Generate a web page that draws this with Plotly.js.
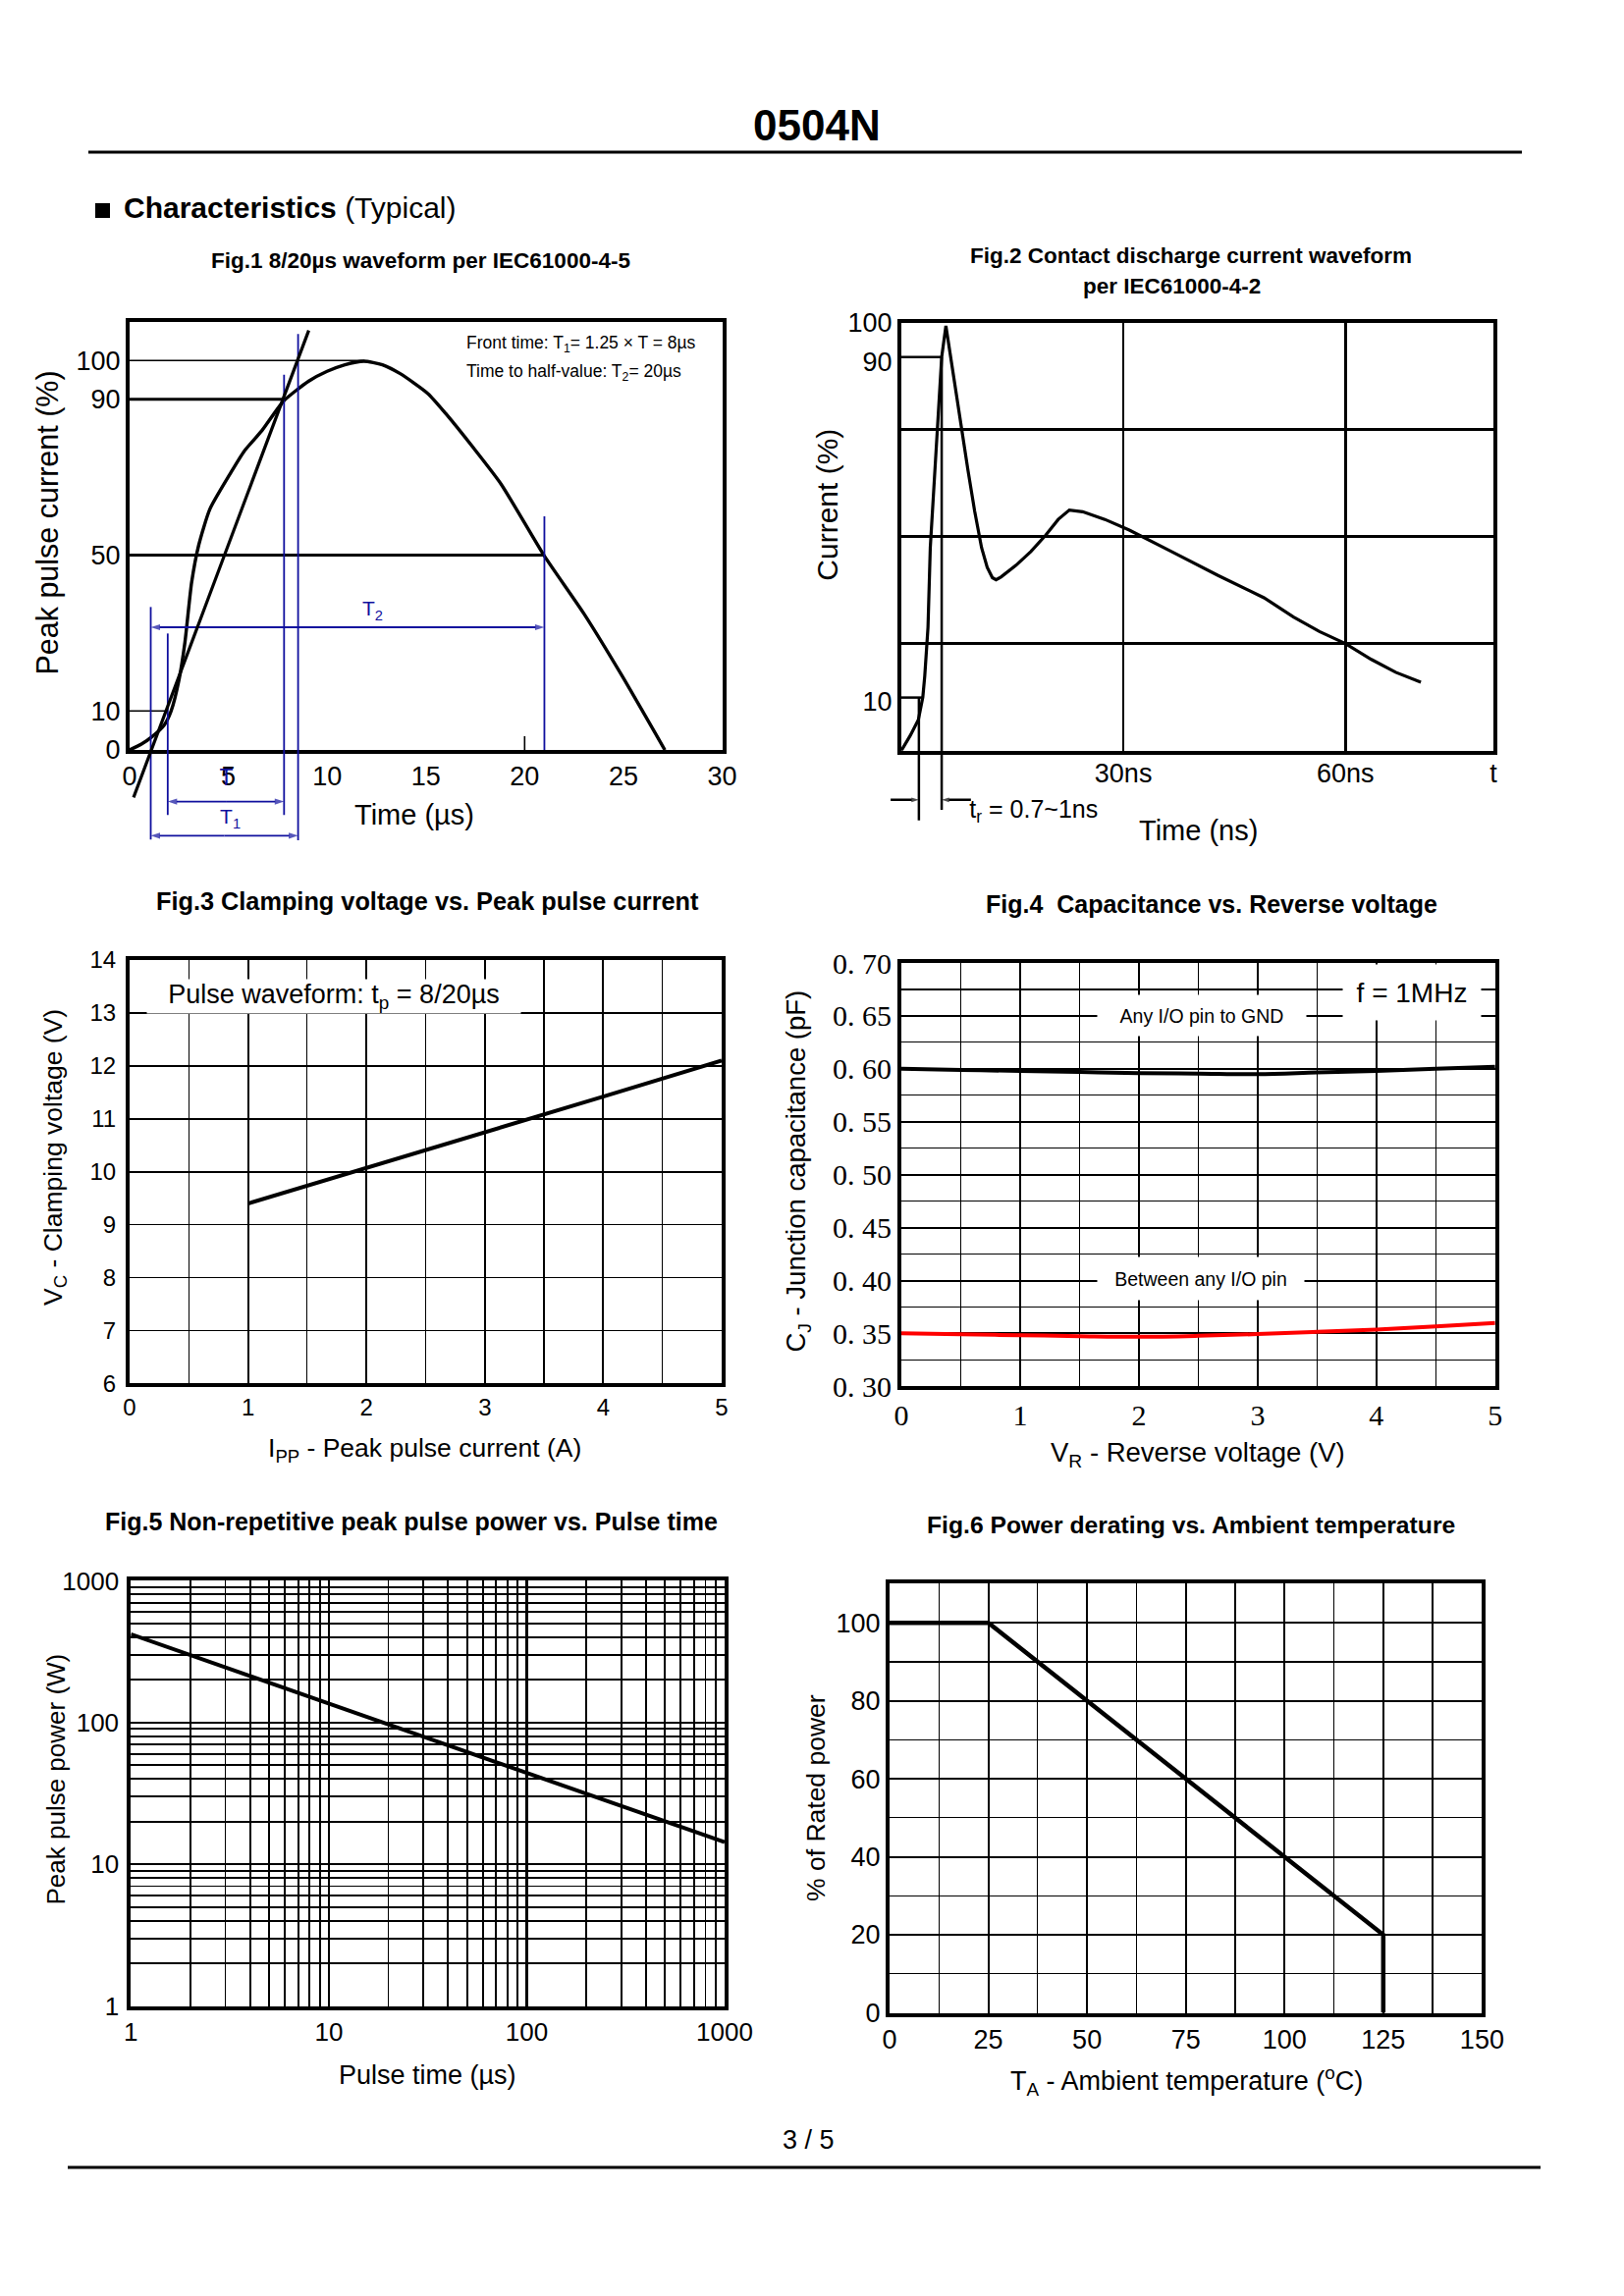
<!DOCTYPE html>
<html><head><meta charset="utf-8">
<script src="https://cdn.plot.ly/plotly-3.0.1.min.js"></script>
<style>html,body{margin:0;padding:0;background:#fff}</style>
</head><body><div id="chart" style="width:1654px;height:2339px"></div>
<script>
// ---------------- data ----------------
// Fig.1 8/20us waveform
const fig1Time    = [0, 0.6, 1.16, 1.74, 2.1, 2.5, 2.8, 3.14, 3.5, 4.07, 5.1, 5.8, 6.7, 7.8, 9.07, 10.0, 10.9, 11.86, 12.8, 13.7, 15.1, 16.0, 17.4, 18.8, 21.0, 23.0, 24.9, 27.1];
const fig1Current = [0, 1.5, 3.5, 6.3, 10.0, 18.0, 27.6, 43.0, 52.6, 61.9, 71.0, 76.7, 82.0, 89.6, 94.7, 97.2, 98.9, 99.8, 98.9, 96.6, 91.5, 86.4, 77.6, 68.3, 49.8, 35.0, 19.3, 0];
const fig1FrontX = [0.2, 9.07];
const fig1FrontY = [-12.2, 107.7];
const fig1RefLevels = [100, 90, 50, 10];
const fig1RefEnds   = [11.9, 7.8, 21.0, 1.9];
const fig1XTicks = [0, 5, 10, 15, 20, 25, 30];
const fig1YTicks = [0, 10, 50, 90, 100];
const fig1GuideX      = [1.07, 1.93, 7.82, 8.53, 21.0];
const fig1GuideTop    = [36.7, 29.9, 96.3, 106.8, 60];
const fig1GuideBottom = [-23, -16.7, -16.7, -23.2, 0];
const fig1DimY    = [31.5, -13.25, -22];
const fig1DimFrom = [1.07, 1.93, 1.07];
const fig1DimTo   = [21.0, 7.82, 8.53];
const fig1DimText = ['T<sub>2</sub>', 'T<sub>1</sub>', 'T'];
const fig1DimTextX = [12.3, 5.1, 4.9];
const fig1DimTextY = [35.8, -17.7, -7.7];

// Fig.2 contact discharge waveform
const fig2Time    = [0, 1.2, 2.3, 2.9, 3.16, 3.6, 3.91, 4.4, 4.92, 5.45, 6.02, 6.6, 7.4, 8.08, 9.0, 9.9, 10.84, 11.6, 12.3, 12.8, 13.5, 15.5, 17.5, 19.5, 21.2, 22.7, 24.5, 27.5, 30.8, 36.5, 42.8, 49.0, 53.0, 56.5, 60.0, 63.5, 66.8, 70.2];
const fig2Current = [0, 3.5, 7.2, 12.5, 17.4, 28.8, 47.4, 61.5, 75.0, 91.9, 99.2, 92.5, 83.0, 75.0, 65.5, 56.0, 47.4, 42.8, 40.4, 39.9, 40.6, 43.3, 46.5, 50.3, 54.0, 56.2, 55.8, 54.0, 51.5, 46.5, 40.9, 35.7, 31.2, 27.8, 25.0, 21.3, 18.3, 16.0];
const fig2XTickVals = [30, 60, 80];
const fig2XTickText = ['30ns', '60ns', 't'];
const fig2YTickVals = [11.4, 90.8, 100];
const fig2YTickText = ['10', '90', '100'];
const fig2GridY = [25, 50, 75];
const fig2GuideX      = [2.37, 5.45];
const fig2GuideTop    = [12.4, 91.9];
const fig2GuideBottom = [-16.3, -13.8];
const fig2TickEnds    = [2.8, 5.45];
const fig2ArrowFrom = [-1.45, 9.4];
const fig2ArrowTo   = [2.37, 5.45];
const fig2ArrowY = -11.5;

// Fig.3 clamping voltage
const fig3Current = [1, 2, 3, 4, 5];
const fig3Voltage = [9.4, 10.07, 10.75, 11.42, 12.1];

// Fig.4 capacitance
const fig4Voltage = [0, 0.5, 1, 1.5, 2, 2.5, 3, 3.5, 4, 4.5, 5];
const fig4CapGnd  = [0.600, 0.599, 0.598, 0.597, 0.596, 0.5955, 0.595, 0.5965, 0.598, 0.600, 0.602];
const fig4CapIO   = [0.3502, 0.3492, 0.3484, 0.3475, 0.3469, 0.3478, 0.3494, 0.3515, 0.3538, 0.3566, 0.3599];
const fig4YTickVals = [0.30, 0.35, 0.40, 0.45, 0.50, 0.55, 0.60, 0.65, 0.70];
const fig4YTickText = ['0. 30', '0. 35', '0. 40', '0. 45', '0. 50', '0. 55', '0. 60', '0. 65', '0. 70'];

// Fig.5 peak pulse power
const fig5Time  = [1, 10, 100, 1000];
const fig5Power = [420, 136, 44.5, 14.3];
const fig5MajorTicks = [1, 10, 100, 1000];
const fig5MinorTicks = [2,3,4,5,6,7,8,9,20,30,40,50,60,70,80,90,200,300,400,500,600,700,800,900];

// Fig.6 power derating
const fig6Temp  = [0, 25, 125, 125];
const fig6Power = [100, 100, 20, 0];
const fig6YTicks = [0, 20, 40, 60, 80, 100];

// ---------------- helpers ----------------
const W = 1654, H = 2339;
const INK = '#000000';
const BLUE = 'rgb(16,16,158)';
const RED = '#ff0000';
const SANS = '"Liberation Sans", Arial, sans-serif';
const SERIF = '"Liberation Serif", "Times New Roman", serif';
const px = v => v / W;
const py = v => 1 - v / H;
const domX = (a, b) => [a / W, b / W];
const domY = (top, bottom) => [1 - bottom / H, 1 - top / H];

// plot boxes (page pixels)
const box1 = {l: 132, r: 735.5, t: 327.5, b: 764};
const box2 = {l: 918, r: 1521, t: 328.5, b: 764.7};
const fig1Range = {x: [0, 30], y: [0, 110]};
const fig2Range = {x: [0, 80], y: [0, 100]};
const fig1ExtRange = {x: [0, 30], y: [-27, 110]};
const fig2ExtRange = {x: [-3, 80], y: [-20, 100]};
// extended (invisible) axes sharing the same scale, so guide marks can run past the frame
const ppu1y = (box1.b - box1.t) / (fig1Range.y[1] - fig1Range.y[0]);
const ppu2x = (box2.r - box2.l) / (fig2Range.x[1] - fig2Range.x[0]);
const ppu2y = (box2.b - box2.t) / (fig2Range.y[1] - fig2Range.y[0]);
const ext1 = {l: box1.l, r: box1.r, t: box1.t, b: box1.b + (fig1Range.y[0] - fig1ExtRange.y[0]) * ppu1y};
const ext2 = {l: box2.l - (fig2Range.x[0] - fig2ExtRange.x[0]) * ppu2x, r: box2.r, t: box2.t,
              b: box2.b + (fig2Range.y[0] - fig2ExtRange.y[0]) * ppu2y};

const traces = [];
const axn = k => k === 1 ? ['x', 'y'] : ['x' + k, 'y' + k];
function addLine(k, x, y, color, width, extra) {
  const [xa, ya] = axn(k);
  traces.push(Object.assign({type: 'scatter', mode: 'lines', x: x, y: y, xaxis: xa, yaxis: ya,
    line: {color: color, width: width}, cliponaxis: false, hoverinfo: 'skip', showlegend: false}, extra || {}));
}
function addArrow(k, xFrom, xTo, y, color, width, size) {
  addLine(k, [xFrom, xTo], [y, y], color, width, {mode: 'lines+markers',
    marker: {symbol: 'arrow', angleref: 'previous', size: [0, size], color: color, line: {width: 0}}});
}
function addText(k, x, y, text, size, color, pos) {
  const [xa, ya] = axn(k);
  traces.push({type: 'scatter', mode: 'text', x: [x], y: [y], text: [text], textposition: pos || 'middle center',
    textfont: {family: SANS, size: size, color: color}, xaxis: xa, yaxis: ya, cliponaxis: false,
    hoverinfo: 'skip', showlegend: false});
}

// ---------------- Fig.1 ----------------
fig1RefLevels.forEach((lv, i) => addLine(1, [0, fig1RefEnds[i]], [lv, lv], INK, (lv === 100 || lv === 10) ? 1.6 : 3));
addLine(1, [20, 20], [0, 3.5], INK, 1.6);
addLine(1, fig1Time, fig1Current, INK, 3.4, {line: {color: INK, width: 3.4, shape: 'spline', smoothing: 0.6}});
// guides on the extended axes (7)
fig1GuideX.forEach((gx, i) => addLine(7, [gx, gx], [fig1GuideBottom[i], fig1GuideTop[i]], BLUE, 1.8));
fig1DimY.forEach((dy, i) => {
  const mid = (fig1DimFrom[i] + fig1DimTo[i]) / 2;
  addArrow(7, mid, fig1DimFrom[i], dy, BLUE, 1.8, 10);
  addArrow(7, mid, fig1DimTo[i], dy, BLUE, 1.8, 10);
  addText(7, fig1DimTextX[i], fig1DimTextY[i], fig1DimText[i], i === 2 ? 23 : 21, BLUE);
});
addLine(7, fig1FrontX, fig1FrontY, INK, 3.2);

// ---------------- Fig.2 ----------------
fig2GuideTop.forEach((lv, i) => addLine(2, [0, fig2TickEnds[i]], [lv, lv], INK, 2.5));
addLine(2, fig2Time, fig2Current, INK, 3.2);
fig2GuideX.forEach((gx, i) => addLine(8, [gx, gx], [fig2GuideBottom[i], fig2GuideTop[i]], INK, 2.5));
fig2ArrowFrom.forEach((x0, i) => addArrow(8, x0, fig2ArrowTo[i], fig2ArrowY, INK, 2.5, 8));
addText(8, 9.2, -14.2, 't<sub>r</sub> = 0.7~1ns', 25, INK, 'middle right');

// ---------------- Fig.3 ----------------
addLine(3, fig3Current, fig3Voltage, INK, 4);

// ---------------- Fig.4 ----------------
addLine(4, fig4Voltage, fig4CapGnd, INK, 4, {line: {color: INK, width: 4, shape: 'spline'}});
addLine(4, fig4Voltage, fig4CapIO, RED, 4, {line: {color: RED, width: 4, shape: 'spline'}});

// ---------------- Fig.5 ----------------
addLine(5, fig5Time, fig5Power, INK, 4);

// ---------------- Fig.6 ----------------
addLine(6, fig6Temp, fig6Power, INK, 4.5);

// ---------------- axes ----------------
function axis(extra) {
  return Object.assign({showline: true, linecolor: INK, linewidth: 4, mirror: true, ticks: '',
    showgrid: false, zeroline: false, fixedrange: true, layer: 'above traces',
    tickfont: {family: SANS, size: 26, color: INK}}, extra);
}
const grid = (w) => ({showgrid: true, gridcolor: INK, gridwidth: w});
const hidden = (extra) => Object.assign({visible: false, fixedrange: true, showgrid: false, zeroline: false}, extra);

const layout = {
  width: W, height: H, margin: {l: 0, r: 0, t: 0, b: 0},
  paper_bgcolor: '#ffffff', plot_bgcolor: 'rgba(255,255,255,0)', showlegend: false,
  xaxis: axis({domain: domX(box1.l, box1.r), range: fig1Range.x, tickvals: fig1XTicks, anchor: 'y', tickfont: {family: SANS, size: 27, color: INK}}),
  yaxis: axis({domain: domY(box1.t, box1.b), range: fig1Range.y, tickvals: fig1YTicks, anchor: 'x', tickfont: {family: SANS, size: 27, color: INK}}),

  xaxis2: axis(Object.assign({domain: domX(box2.l, box2.r), range: fig2Range.x, tickvals: fig2XTickVals, ticktext: fig2XTickText, anchor: 'y2',
    ticklabelstandoff: -4, tickfont: {family: SANS, size: 27, color: INK}}, grid(2.5))),
  yaxis2: axis({domain: domY(box2.t, box2.b), range: fig2Range.y, tickvals: fig2YTickVals, ticktext: fig2YTickText, anchor: 'x2', tickfont: {family: SANS, size: 27, color: INK},
    minor: {tickvals: fig2GridY, showgrid: true, gridcolor: INK, gridwidth: 2.5, ticks: ''}}),

  xaxis3: axis(Object.assign({domain: domX(132, 735), range: [0, 5], tick0: 0, dtick: 1, anchor: 'y3', tickfont: {family: SANS, size: 24, color: INK},
    minor: {dtick: 0.5, tick0: 0, showgrid: true, gridcolor: INK, gridwidth: 1.2, ticks: ''}}, grid(2))),
  yaxis3: axis(Object.assign({domain: domY(978, 1409.4), range: [6, 14], tick0: 6, dtick: 1, anchor: 'x3', ticklabelstandoff: 5, tickfont: {family: SANS, size: 24, color: INK}}, grid(1.7))),

  xaxis4: axis(Object.assign({domain: domX(918, 1522.8), range: [0, 5], tick0: 0, dtick: 1, anchor: 'y4', tickfont: {family: SERIF, size: 30, color: INK},
    minor: {dtick: 0.5, tick0: 0, showgrid: true, gridcolor: INK, gridwidth: 1.2, ticks: ''}}, grid(2))),
  yaxis4: axis(Object.assign({domain: domY(981, 1412.4), range: [0.3, 0.7], tickvals: fig4YTickVals, ticktext: fig4YTickText, anchor: 'x4', tickfont: {family: SERIF, size: 30, color: INK},
    minor: {dtick: 0.025, tick0: 0.3, showgrid: true, gridcolor: INK, gridwidth: 1.2, ticks: ''}}, grid(2))),

  xaxis5: axis(Object.assign({domain: domX(133.3, 738), type: 'log', range: [0, 3], tickvals: fig5MajorTicks, ticktext: fig5MajorTicks.map(String), anchor: 'y5', tickfont: {family: SANS, size: 26, color: INK},
    minor: {tickvals: fig5MinorTicks, showgrid: true, gridcolor: INK, gridwidth: 1.9, ticks: ''}}, grid(2.2))),
  yaxis5: axis(Object.assign({domain: domY(1610.4, 2043.5), type: 'log', range: [0, 3], tickvals: fig5MajorTicks, ticktext: fig5MajorTicks.map(String), anchor: 'x5', ticklabelstandoff: 3, tickfont: {family: SANS, size: 26, color: INK},
    minor: {tickvals: fig5MinorTicks, showgrid: true, gridcolor: INK, gridwidth: 1.9, ticks: ''}}, grid(2.2))),

  xaxis6: axis(Object.assign({domain: domX(906, 1509.4), range: [0, 150], tick0: 0, dtick: 25, anchor: 'y6', tickfont: {family: SANS, size: 27, color: INK},
    minor: {dtick: 12.5, tick0: 0, showgrid: true, gridcolor: INK, gridwidth: 1.3, ticks: ''}}, grid(2))),
  yaxis6: axis(Object.assign({domain: domY(1613.4, 2050.5), range: [0, 110], tickvals: fig6YTicks, anchor: 'x6', tickfont: {family: SANS, size: 27, color: INK},
    minor: {dtick: 10, tick0: 0, showgrid: true, gridcolor: INK, gridwidth: 1.3, ticks: ''}}, grid(2))),

  // invisible extended axes for Fig.1 and Fig.2 guide marks
  xaxis7: hidden({domain: domX(ext1.l, ext1.r), range: fig1ExtRange.x, anchor: 'y7'}),
  yaxis7: hidden({domain: domY(ext1.t, ext1.b), range: fig1ExtRange.y, anchor: 'x7'}),
  xaxis8: hidden({domain: domX(ext2.l, ext2.r), range: fig2ExtRange.x, anchor: 'y8'}),
  yaxis8: hidden({domain: domY(ext2.t, ext2.b), range: fig2ExtRange.y, anchor: 'x8'}),

  shapes: [
    {type: 'line', xref: 'paper', yref: 'paper', x0: px(90), x1: px(1550), y0: py(155), y1: py(155), line: {color: INK, width: 3}},
    {type: 'line', xref: 'paper', yref: 'paper', x0: px(69), x1: px(1569), y0: py(2208), y1: py(2208), line: {color: INK, width: 3}},
    {type: 'rect', xref: 'paper', yref: 'paper', x0: px(97), x1: px(112), y0: py(222), y1: py(207), fillcolor: INK, line: {width: 0}}
  ],
  annotations: []
};

function note(xp, yp, text, size, opts) {
  layout.annotations.push(Object.assign({xref: 'paper', yref: 'paper', x: px(xp), y: py(yp), text: text, showarrow: false,
    font: {family: SANS, size: size, color: INK}, xanchor: 'center', yanchor: 'middle'}, opts || {}));
}
function dataNote(k, x, y, text, size, opts) {
  const [xa, ya] = axn(k);
  layout.annotations.push(Object.assign({xref: xa, yref: ya, x: x, y: y, text: text, showarrow: false,
    font: {family: SANS, size: size, color: INK}, xanchor: 'center', yanchor: 'middle'}, opts || {}));
}

// page header / footer
note(832, 127, '<b>0504N</b>', 44);
note(124, 211, '<b>Characteristics</b> (Typical)', 30, {xanchor: 'left'});
note(823, 2180, '3 / 5', 27);

// figure titles
note(428, 265.6, '<b>Fig.1 8/20µs waveform per IEC61000-4-5</b>', 22.5);
note(1213, 261, '<b>Fig.2 Contact discharge current waveform</b>', 22.5);
note(1193.6, 291, '<b>per IEC61000-4-2</b>', 22.5);
note(435.7, 917.6, '<b>Fig.3 Clamping voltage vs. Peak pulse current</b>', 25.3);
note(1234, 920.6, '<b>Fig.4&nbsp; Capacitance vs. Reverse voltage</b>', 25);
note(419, 1550, '<b>Fig.5 Non-repetitive peak pulse power vs. Pulse time</b>', 25);
note(1213, 1553, '<b>Fig.6 Power derating vs. Ambient temperature</b>', 24.7);

// axis titles
note(422, 829.6, 'Time (µs)', 29);
note(49, 532.6, 'Peak pulse current (%)', 30.5, {textangle: -90});
note(1220, 846, 'Time (ns)', 29);
note(843, 514.7, 'Current (%)', 30, {textangle: -90});
note(432.7, 1477, 'I<sub>PP</sub> - Peak pulse current (A)', 26.5);
note(55.2, 1178.7, 'V<sub>C</sub> - Clamping voltage (V)', 26.5, {textangle: -90});
note(1220, 1481.6, 'V<sub>R</sub> - Reverse voltage (V)', 27.5);
note(813, 1193.6, 'C<sub>J</sub> - Junction capacitance (pF)', 27.5, {textangle: -90});
note(435.7, 2114, 'Pulse time (µs)', 27);
note(56.7, 1812.8, 'Peak pulse power (W)', 26, {textangle: -90});
note(1208.5, 2120, 'T<sub>A</sub> - Ambient temperature (<sup>o</sup>C)', 27);
note(831, 1832, '% of Rated power', 26.5, {textangle: -90});

// in-plot labels
dataNote(1, 16.95, 104.2, 'Front time: T<sub>1</sub>= 1.25 × T = 8µs', 17.5, {xanchor: 'left'});
dataNote(1, 16.95, 96.9, 'Time to half-value: T<sub>2</sub>= 20µs', 17.5, {xanchor: 'left'});
dataNote(3, 1.725, 13.31, 'Pulse waveform: t<sub>p</sub> = 8/20µs', 27, {bgcolor: '#ffffff', width: 380, height: 34, borderpad: 0});
dataNote(4, 2.53, 0.65, 'Any I/O pin to GND', 19.5, {bgcolor: '#ffffff', width: 212, height: 41, borderpad: 0});
dataNote(4, 2.52, 0.402, 'Between any I/O pin', 19.5, {bgcolor: '#ffffff', width: 210, height: 43, borderpad: 0});
dataNote(4, 4.3, 0.672, 'f = 1MHz', 28, {bgcolor: '#ffffff', width: 140, height: 56, borderpad: 0});

Plotly.newPlot('chart', traces, layout, {staticPlot: true, displayModeBar: false});
</script>
</body></html>
